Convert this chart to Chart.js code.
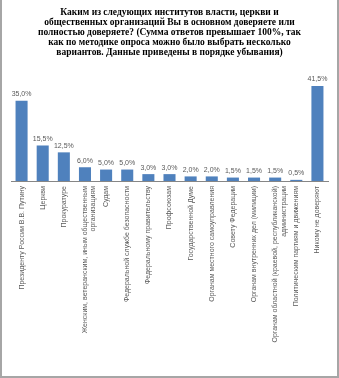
<!DOCTYPE html>
<html>
<head>
<meta charset="utf-8">
<script src="https://cdn.jsdelivr.net/npm/chart.js@4.4.1/dist/chart.umd.min.js"></script>
<style>
  html, body { margin: 0; padding: 0; background: #fff; }
  #wrap { position: relative; width: 339px; height: 378px; }
  #frame {
    position: absolute; left: 0; top: 0; width: 339px; height: 378px;
    box-sizing: border-box; pointer-events: none;
    border-left: 2px solid #a6a6a6; border-right: 2px solid #a6a6a6; border-bottom: 2px solid #a6a6a6;
  }
</style>
</head>
<body>
<div id="wrap">
  <canvas id="trustChart" width="339" height="378"></canvas>
  <div id="frame"></div>
</div>
<script>
// Survey data
const titleLines = [
    "Каким из следующих институтов власти, церкви и",
    "общественных организаций Вы в основном доверяете или",
    "полностью доверяете? (Сумма ответов превышает 100%, так",
    "как по методике опроса можно было выбрать несколько",
    "вариантов. Данные приведены в порядке убывания)"
];

const institutions = [
    "Президенту России В.В. Путину",
    "Церкви",
    "Прокуратуре",
    ["Женским, ветеранским, иным общественным", "организациям"],
    "Судам",
    "Федеральной службе безопасности",
    "Федеральному правительству",
    "Профсоюзам",
    "Государственной Думе",
    "Органам местного самоуправления",
    "Совету Федерации",
    "Органам внутренних дел (милиции)",
    ["Органам областной (краевой, республиканской)", "администрации"],
    "Политическим партиям и движениям",
    "Никому не доверяют"
];

const trustShare = [35.0, 15.5, 12.5, 6.0, 5.0, 5.0, 3.0, 3.0, 2.0, 2.0, 1.5, 1.5, 1.5, 0.5, 41.5];

const labelGray = "#595959";
const labelFont = "7px 'Liberation Sans', Arial, sans-serif";

// values above the bars, "35,0%" style
const valueLabels = {
    id: "valueLabels",
    afterDatasetsDraw(chart) {
        const ctx = chart.ctx;
        const meta = chart.getDatasetMeta(0);
        ctx.save();
        ctx.font = labelFont;
        ctx.fillStyle = labelGray;
        ctx.textAlign = "center";
        ctx.textBaseline = "bottom";
        meta.data.forEach((bar, i) => {
            const txt = trustShare[i].toFixed(1).replace(".", ",") + "%";
            ctx.fillText(txt, bar.x, bar.y - 3);
        });
        ctx.restore();
    }
};

new Chart(document.getElementById("trustChart"), {
    type: "bar",
    data: {
        labels: institutions,
        datasets: [{
            data: trustShare,
            backgroundColor: "#4F81BD",
            barPercentage: 0.57,
            categoryPercentage: 1.0
        }]
    },
    options: {
        responsive: false,
        animation: false,
        layout: { padding: { left: 11, right: 11, top: 0, bottom: 0 } },
        plugins: {
            legend: { display: false },
            tooltip: { enabled: false },
            title: {
                display: true,
                text: titleLines,
                color: "#000",
                font: { family: "'Liberation Serif', 'Times New Roman', serif", size: 9.5, weight: "bold", lineHeight: 1.05 },
                padding: { top: 8, bottom: 20 }
            }
        },
        scales: {
            x: {
                grid: { display: false, drawTicks: false },
                border: { display: true, color: "#868686" },
                ticks: {
                    autoSkip: false,
                    minRotation: 90,
                    maxRotation: 90,
                    padding: 5,
                    color: labelGray,
                    font: { family: "'Liberation Sans', Arial, sans-serif", size: 7 }
                },
                afterFit: s => { s.height = 197; }
            },
            y: {
                display: false,
                min: 0,
                max: 45
            }
        }
    },
    plugins: [valueLabels]
});
</script>
</body>
</html>
